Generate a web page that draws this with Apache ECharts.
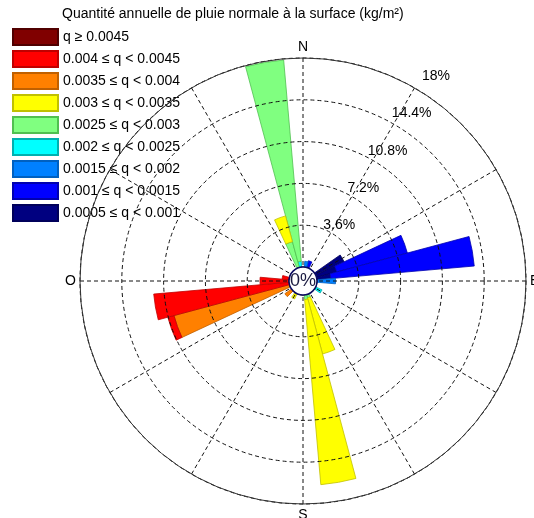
<!DOCTYPE html>
<html>
<head>
<meta charset="utf-8">
<script src="https://cdn.jsdelivr.net/npm/echarts@6/dist/echarts.min.js"></script>
<style>
  html, body { margin: 0; padding: 0; background: #fff; }
  #rose { width: 534px; height: 518px; }
</style>
</head>
<body>
<div id="rose"></div>
<script>
  // secteurs de direction (degrés, sens horaire depuis le nord)
  var directions = ['0', '10', '20', '30', '40', '50', '60', '70', '80', '90',
    '100', '110', '120', '130', '140', '150', '160', '170', '180', '190',
    '200', '210', '220', '230', '240', '250', '260', '270', '280', '290',
    '300', '310', '320', '330', '340', '350'];

  var classNames = ['0.0005 ≤ q < 0.001', '0.001 ≤ q < 0.0015', '0.0015 ≤ q < 0.002',
    '0.002 ≤ q < 0.0025', '0.0025 ≤ q < 0.003', '0.003 ≤ q < 0.0035',
    '0.0035 ≤ q < 0.004', '0.004 ≤ q < 0.0045', 'q ≥ 0.0045'];

  // fréquence (%) par secteur, une liste par classe
  var q0005 = [0, 0, 0, 0, 0, 0, 2.7, 1.8, 1.2, 0,
    0, 0, 0, 0, 0, 0, 0, 0, 0, 0,
    0, 0, 0, 0, 0, 0, 0, 0, 0, 0,
    0, 0, 0, 0, 0, 0];
  var q0010 = [0, 0, 0.6, 0, 0, 0, 0, 6.3, 12.4, 0,
    0, 0, 0, 0, 0, 0, 0, 0, 0, 0,
    0, 0, 0, 0, 0, 0, 0, 0, 0, 0,
    0, 0, 0, 0, 0, 0];
  var q0015 = [0, 0.5, 0, 0, 0, 0, 0, 0, 0, 1.6,
    0, 0, 0, 0, 0, 0, 0, 0, 0, 0,
    0, 0, 0, 0, 0, 0, 0, 0, 0, 0,
    0, 0, 0, 0, 0, 0];
  var q0020 = [0, 0, 0, 0, 0, 0, 0, 0, 0, 0,
    0, 0, 0.6, 0, 0, 0, 0, 0, 0, 0,
    0, 0, 0, 0, 0, 0, 0, 0, 0, 0,
    0, 0, 0, 0, 0, 0.5];
  var q0025 = [0, 0, 0, 0, 0, 0, 0, 0, 0, 0,
    0, 0, 0, 0, 0, 0, 0.3, 0.4, 0, 0,
    0, 0, 0, 0, 0, 0, 0, 0, 0, 0,
    0, 0, 0, 0, 2.3, 17.4];
  var q0030 = [0, 0, 0, 0, 0, 0, 0, 0, 0, 0,
    0, 0, 0, 0, 0, 0, 5.0, 16.0, 0, 0,
    0, 0.5, 0, 0, 0, 0, 0, 0, 0, 0,
    0, 0, 0, 0, 2.3, 0];
  var q0035 = [0, 0, 0, 0, 0, 0, 0, 0, 0, 0,
    0, 0, 0, 0, 0, 0, 0, 0, 0, 0,
    0, 0, 0, 0.7, 0, 10.3, 0, 0, 0, 0,
    0, 0, 0, 0, 0, 0];
  var q0040 = [0, 0, 0, 0, 0, 0, 0, 0, 0, 0,
    0, 0, 0, 0, 0, 0, 0, 0, 0, 0,
    0, 0, 0, 0, 0, 0.55, 11.7, 2.5, 0.6, 0,
    0, 0, 0, 0, 0, 0];
  var q0045 = [0, 0, 0, 0, 0, 0, 0, 0, 0, 0,
    0, 0, 0, 0, 0, 0, 0, 0, 0, 0,
    0, 0, 0, 0, 0, 0, 0, 0, 0, 0,
    0, 0, 0, 0, 0, 0];

  var classData = [q0005, q0010, q0015, q0020, q0025, q0030, q0035, q0040, q0045];
  var classColors = ['#000080', '#0000ff', '#0080ff', '#00ffff', '#80ff80', '#ffff00', '#ff8000', '#ff0000', '#800000'];
  var edgeColors = ['#00005a', '#0000b0', '#0060c0', '#00b0b0', '#50c050', '#c0c000', '#c06000', '#c00000', '#500000'];

  var compass = { 0: 'N', 90: 'E', 180: 'S', 270: 'O' };
  var center = [303, 281];
  var holeR = 14;
  var outerR = 223;
  var font = 'Arial, "Liberation Sans", sans-serif';

  var myChart = echarts.init(document.getElementById('rose'));

  var series = classData.map(function (arr, i) {
    return {
      name: classNames[i],
      type: 'bar',
      coordinateSystem: 'polar',
      polarIndex: 1,
      stack: 'q',
      barCategoryGap: '0%',
      data: arr.map(function (v) { return v || '-'; }),
      itemStyle: { color: classColors[i], borderColor: edgeColors[i], borderWidth: 0.8 },
      emphasis: { disabled: true },
      z: 2
    };
  });

  var option = {
    animation: false,
    textStyle: { fontFamily: font },
    title: {
      text: 'Quantité annuelle de pluie normale à la surface (kg/m²)',
      left: 62,
      top: 7,
      padding: 0,
      textStyle: { fontSize: 14, fontWeight: 'normal', color: '#000', fontFamily: font }
    },
    legend: {
      orient: 'vertical',
      left: 12,
      top: 28,
      padding: 0,
      itemWidth: 45,
      itemHeight: 16,
      itemGap: 4,
      icon: 'rect',
      selectedMode: false,
      data: classNames.slice().reverse(),
      textStyle: { fontSize: 14, color: '#000', fontFamily: font, lineHeight: 16 }
    },
    polar: [
      { center: center, radius: [holeR, outerR] },   // grille
      { center: center, radius: [holeR, outerR] },   // barres
      { center: center, radius: [22, 244] }          // étiquettes des cercles
    ],
    angleAxis: [
      {
        polarIndex: 0,
        type: 'value',
        min: 0,
        max: 360,
        interval: 30,
        startAngle: 90,
        clockwise: true,
        z: 5,
        axisLine: { show: true, lineStyle: { color: '#333', width: 1 } },
        axisTick: { show: false },
        axisLabel: {
          margin: 4,
          fontSize: 14,
          color: '#000',
          formatter: function (v) { return compass[v] || ''; }
        },
        splitLine: { show: true, lineStyle: { color: '#111', type: [4, 3], width: 1 } }
      },
      {
        polarIndex: 1,
        type: 'category',
        data: directions,
        startAngle: 95,
        clockwise: true,
        axisLine: { show: false },
        axisTick: { show: false },
        axisLabel: { show: false },
        splitLine: { show: false }
      },
      {
        polarIndex: 2,
        type: 'value',
        min: 0,
        max: 360,
        startAngle: 57,
        show: false
      }
    ],
    radiusAxis: [
      {
        polarIndex: 0,
        min: 0,
        max: 18,
        interval: 3.6,
        z: 5,
        axisLine: { show: false },
        axisTick: { show: false },
        axisLabel: { show: false },
        splitLine: { show: true, lineStyle: { color: '#111', type: [4, 3], width: 1 } }
      },
      {
        polarIndex: 1,
        min: 0,
        max: 18,
        axisLine: { show: false },
        axisTick: { show: false },
        axisLabel: { show: false },
        splitLine: { show: false }
      },
      {
        polarIndex: 2,
        min: 0,
        max: 18,
        interval: 3.6,
        z: 6,
        axisLine: { show: false },
        axisTick: { show: false },
        splitLine: { show: false },
        axisLabel: {
          show: true,
          showMinLabel: false,
          margin: 0,
          align: 'center',
          verticalAlign: 'middle',
          fontSize: 14,
          color: '#000',
          formatter: function (v) { return +v.toFixed(1) + '%'; }
        }
      }
    ],
    graphic: [
      {
        type: 'circle',
        z: 20,
        shape: { cx: center[0], cy: center[1], r: holeR },
        style: { fill: '#fff', stroke: '#0a0a60', lineWidth: 1.5 }
      },
      {
        type: 'text',
        z: 21,
        x: center[0],
        y: center[1],
        style: {
          text: '0%',
          fontSize: 18,
          fontFamily: font,
          fill: '#1a1a40',
          align: 'center',
          verticalAlign: 'middle'
        }
      }
    ],
    series: series
  };

  myChart.setOption(option);
</script>
</body>
</html>
